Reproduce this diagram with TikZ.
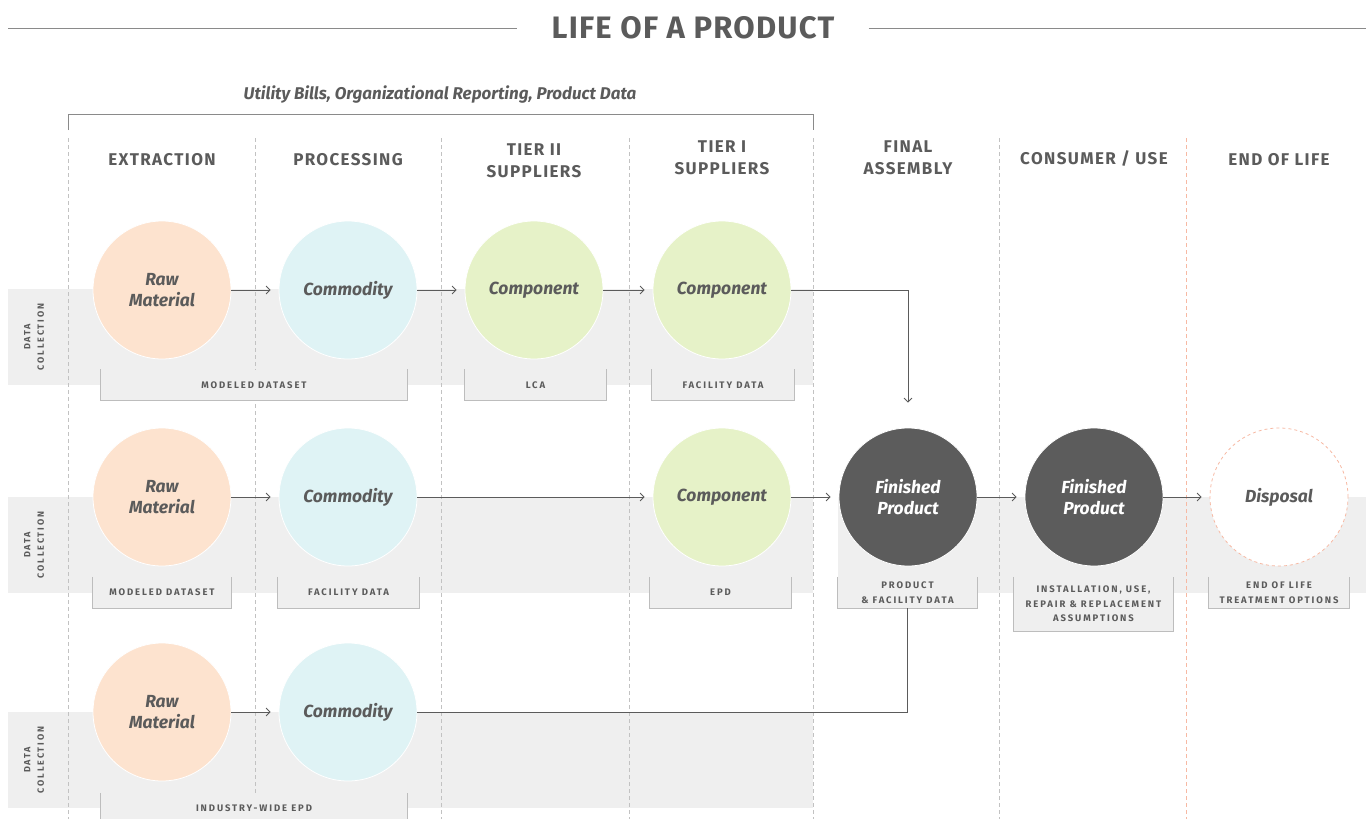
\documentclass[tikz,border=0pt]{standalone}
\usepackage{fontspec}
\setmainfont{Fira Sans}
\newfontfamily\spaced{Fira Sans}[LetterSpace=8]
\newfontfamily\titlefont{Fira Sans}[LetterSpace=4]
\newfontfamily\widespaced{Fira Sans}[LetterSpace=20]
\usetikzlibrary{positioning, shapes.geometric, arrows.meta}

\definecolor{ink}{HTML}{5B5B5B}
\definecolor{band}{HTML}{EFEFEF}
\definecolor{peach}{HTML}{FDE3CF}
\definecolor{aqua}{HTML}{DFF3F5}
\definecolor{leaf}{HTML}{E6F2C8}
\definecolor{dark}{HTML}{5C5C5C}
\definecolor{salmon}{HTML}{F7B9A3}
\definecolor{rulegray}{HTML}{C2C2C2}
\definecolor{boxgray}{HTML}{BDBDBD}
\definecolor{linegray}{HTML}{8A8A8A}

\begin{document}
\begin{tikzpicture} [x=1pt, y=-1pt, >={Straight Barb[length=4pt, width=8pt]},
  ball/.style={circle, minimum size=138pt, inner sep=0pt, draw=white, line width=0.8pt, align=center,
               text=ink, font=\fontsize{17.5}{21.5}\selectfont\bfseries\itshape},
  raw/.style={ball, fill=peach},
  comm/.style={ball, fill=aqua},
  comp/.style={ball, fill=leaf},
  fin/.style={ball, fill=dark, text=white},
  disp/.style={ball, fill=white, draw=salmon, dashed},
  tag/.style={rectangle, fill=band, minimum height=31pt, inner sep=0pt, align=center, text=ink,
              font=\widespaced\fontsize{9.5}{14.5}\selectfont\bfseries},
  head/.style={align=center, text=ink, font=\spaced\fontsize{17}{22}\selectfont\bfseries},
  side/.style={rotate=90, align=center, text=ink, font=\widespaced\fontsize{9}{13.5}\selectfont\bfseries},
  col/.style={draw=rulegray, dash pattern=on 4pt off 3pt, line width=0.6pt},
  flow/.style={draw=ink, line width=0.8pt}]

  \useasboundingbox (0,0) rectangle (1366,819);

  % grey rows behind the data collection stages
  \fill[band] (8,289) rectangle (813,385);
  \fill[band] (8,497) rectangle (813,593);
  \fill[band] (838,497) rectangle (1366,593);
  \fill[band] (8,712) rectangle (813,808);

  % stage separators
  \foreach \x in {68,255,441,629,813,999}
    \draw[col] (\x,138) -- (\x,819);
  \draw[col, draw=salmon] (1186,138) -- (1186,819);

  % title and bracket
  \draw (693,28) node[text=ink, inner xsep=34pt, font=\titlefont\fontsize{31}{34}\selectfont\bfseries](ttl) {LIFE OF A PRODUCT};
  \draw[linegray, line width=0.8pt] (8,28) -- (ttl.west)  (ttl.east) -- (1366,28);
  \draw (440,95) node[text=ink, font=\fontsize{17}{20}\selectfont\bfseries\itshape](src) {Utility Bills, Organizational Reporting, Product Data};
  \draw[linegray, line width=0.8pt] (68,130) |- (813,114) -- (813,130);

  % stage headings
  \draw (162,160)  node[head](ext)   {EXTRACTION};
  \draw (348,160)  node[head](proc)  {PROCESSING};
  \draw (534,161)  node[head](tiera) {TIER II\\SUPPLIERS};
  \draw (722,158)  node[head](tierb) {TIER I\\SUPPLIERS};
  \draw (908,158)  node[head](asm)   {FINAL\\ASSEMBLY};
  \draw (1094,159) node[head](cons)  {CONSUMER / USE};
  \draw (1279,160) node[head](eol)   {END OF LIFE};

  \draw (34,337) node[side](dc1) {DATA\\COLLECTION};
  \draw (34,545) node[side](dc2) {DATA\\COLLECTION};
  \draw (34,760) node[side](dc3) {DATA\\COLLECTION};

  % data sources under each stage
  \draw (254,385)    node[tag, minimum width=306pt](t1a) {MODELED DATASET};
  \draw (535.5,385)  node[tag, minimum width=141pt](t1b) {LCA};
  \draw (723,385)    node[tag, minimum width=142pt](t1c) {FACILITY DATA};
  \draw (162,592.5)  node[tag, minimum width=138pt](t2a) {MODELED DATASET};
  \draw (348.5,592.5) node[tag, minimum width=141pt](t2b) {FACILITY DATA};
  \draw (720.5,592.5) node[tag, minimum width=141pt](t2c) {EPD};
  \draw (907.5,592.5) node[tag, minimum width=139pt](t2d) {PRODUCT\\\& FACILITY DATA};
  \draw (1093.5,604) node[tag, minimum width=159pt, minimum height=54pt](t2e) {INSTALLATION, USE,\\REPAIR \& REPLACEMENT\\ASSUMPTIONS};
  \draw (1279,592.5) node[tag, minimum width=140pt](t2f) {END OF LIFE\\TREATMENT OPTIONS};
  \draw (254,808)    node[tag, minimum width=306pt, minimum height=30pt](t3a) {INDUSTRY-WIDE EPD};
  \foreach \t in {t1a,t1b,t1c,t2a,t2b,t2c,t2d,t2e,t2f,t3a}
    \draw[boxgray, line width=0.8pt] (\t.north west) -- (\t.south west) -- (\t.south east) -- (\t.north east);

  % stages
  \draw (162,290)  node[raw](r1)  {Raw\\Material};
  \draw (348,290)  node[comm](c1) {Commodity};
  \draw (534,290)  node[comp](p1) {Component};
  \draw (722,290)  node[comp](q1) {Component};

  \draw (162,497)  node[raw](r2)  {Raw\\Material};
  \draw (348,497)  node[comm](c2) {Commodity};
  \draw (722,497)  node[comp](q2) {Component};
  \draw (908,497)  node[fin](f2)  {Finished\\Product};
  \draw (1094,497) node[fin](u2)  {Finished\\Product};
  \draw (1279,497) node[disp](d2) {Disposal};

  \draw (162,712)  node[raw](r3)  {Raw\\Material};
  \draw (348,712)  node[comm](c3) {Commodity};

\path[flow, shorten >=8pt]
      (r1) edge[->] (c1)
      (c1) edge[->] (p1)
      (p1) edge[->] (q1)
      (r2) edge[->] (c2)
      (c2) edge[->] (q2)
      (q2) edge[->] (f2)
      (f2) edge[->] (u2)
      (u2) edge[->] (d2)
      (r3) edge[->] (c3);
  \draw[flow, ->, shorten >=25pt] (q1.east) -| (f2.north);
  \draw[flow] (c3.east) -| (t2d.south);
\end{tikzpicture}
\end{document}
